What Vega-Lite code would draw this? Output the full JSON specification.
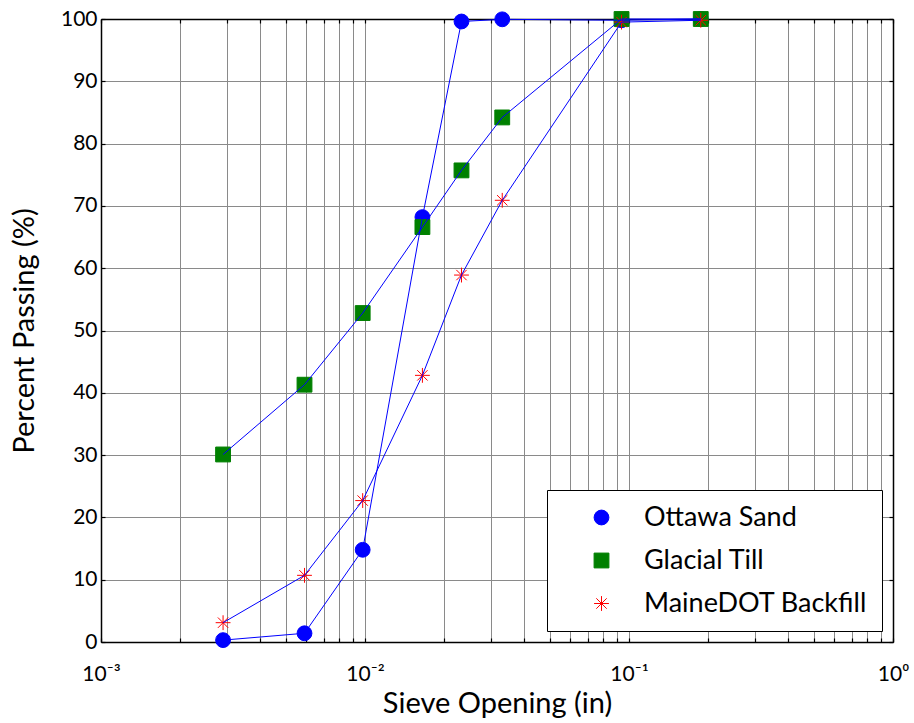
{
  "$schema": "https://vega.github.io/schema/vega-lite/v6.json",
  "autosize": "none",
  "width": 792,
  "height": 623,
  "padding": {"left": 101, "top": 19, "right": 21, "bottom": 81},
  "background": "white",
  "config": {
    "view": {"stroke": null},
    "font": "Lato",
    "axis": {"labelFont": "Lato", "titleFont": "Lato", "labelColor": "black", "titleColor": "black", "titleFontWeight": "normal", "domainColor": "black", "domainWidth": 1.5, "tickColor": "black", "tickWidth": 1.2, "gridColor": "#8a8a8a", "gridWidth": 1, "gridOpacity": 1},
    "legend": {"labelFont": "Lato"}
  },
  "data": {
    "values": [
      {"sieve": 0.0029, "series": "Ottawa Sand", "passing": 0.3},
      {"sieve": 0.0059, "series": "Ottawa Sand", "passing": 1.4},
      {"sieve": 0.0098, "series": "Ottawa Sand", "passing": 14.8},
      {"sieve": 0.0165, "series": "Ottawa Sand", "passing": 68.2},
      {"sieve": 0.0232, "series": "Ottawa Sand", "passing": 99.6},
      {"sieve": 0.0331, "series": "Ottawa Sand", "passing": 99.95},
      {"sieve": 0.0937, "series": "Ottawa Sand", "passing": 99.8},
      {"sieve": 0.187, "series": "Ottawa Sand", "passing": 100},
      {"sieve": 0.0029, "series": "Glacial Till", "passing": 30.1},
      {"sieve": 0.0059, "series": "Glacial Till", "passing": 41.3},
      {"sieve": 0.0098, "series": "Glacial Till", "passing": 52.8},
      {"sieve": 0.0165, "series": "Glacial Till", "passing": 66.6},
      {"sieve": 0.0232, "series": "Glacial Till", "passing": 75.7},
      {"sieve": 0.0331, "series": "Glacial Till", "passing": 84.2},
      {"sieve": 0.0937, "series": "Glacial Till", "passing": 100},
      {"sieve": 0.187, "series": "Glacial Till", "passing": 100},
      {"sieve": 0.0029, "series": "MaineDOT Backfill", "passing": 3.1},
      {"sieve": 0.0059, "series": "MaineDOT Backfill", "passing": 10.7},
      {"sieve": 0.0098, "series": "MaineDOT Backfill", "passing": 22.7},
      {"sieve": 0.0165, "series": "MaineDOT Backfill", "passing": 42.8},
      {"sieve": 0.0232, "series": "MaineDOT Backfill", "passing": 58.9},
      {"sieve": 0.0331, "series": "MaineDOT Backfill", "passing": 70.9},
      {"sieve": 0.0937, "series": "MaineDOT Backfill", "passing": 99.5},
      {"sieve": 0.187, "series": "MaineDOT Backfill", "passing": 99.8}
    ]
  },
  "layer": [
    {
      "mark": {"type": "point", "filled": false, "size": 220, "strokeWidth": 1, "opacity": 1},
      "encoding": {
        "x": {
          "field": "sieve", "type": "quantitative",
          "scale": {"type": "log", "domain": [0.001, 1], "nice": false},
          "axis": {
            "orient": "bottom",
            "title": "Sieve Opening (in)",
            "titleFontSize": 29,
            "titlePadding": 5,
            "values": [0.001,0.002,0.003,0.004,0.005,0.006,0.007,0.008,0.009,0.01,0.02,0.03,0.04,0.05,0.06,0.07,0.08,0.09,0.1,0.2,0.3,0.4,0.5,0.6,0.7,0.8,0.9,1],
            "labelExpr": "datum.value == 0.001 ? '10⁻³' : datum.value == 0.01 ? '10⁻²' : datum.value == 0.1 ? '10⁻¹' : datum.value == 1 ? '10⁰' : ''",
            "labelFontSize": 21,
            "labelPadding": 25,
            "labelFlush": false,
            "labelOverlap": false,
            "labelBound": false,
            "tickSize": -4,
            "grid": true
          }
        },
        "y": {
          "field": "passing", "type": "quantitative",
          "scale": {"domain": [0, 100], "nice": false, "zero": false},
          "axis": {
            "orient": "left",
            "title": "Percent Passing (%)",
            "titleFontSize": 29,
            "titlePadding": 21,
            "values": [0,10,20,30,40,50,60,70,80,90,100],
            "labelFontSize": 21,
            "labelPadding": 8,
            "tickSize": -4,
            "grid": true
          }
        },
        "shape": {
          "field": "series", "type": "nominal",
          "scale": {"domain": ["Ottawa Sand", "Glacial Till", "MaineDOT Backfill"], "range": ["circle", "square", "M-1,0L1,0M0,-1L0,1M-0.7,-0.7L0.7,0.7M-0.7,0.7L0.7,-0.7"]},
          "legend": {
            "title": null,
            "orient": "bottom-right",
            "offset": 11,
            "padding": 14,
            "strokeColor": "black",
            "fillColor": "white",
            "labelFontSize": 27,
            "labelColor": "black",
            "labelOffset": 29,
            "symbolOffset": 27,
            "symbolSize": 220,
            "symbolStrokeWidth": 1,
            "rowPadding": 15,
            "labelLimit": 400
          }
        },
        "fill": {
          "field": "series", "type": "nominal",
          "scale": {"domain": ["Ottawa Sand", "Glacial Till", "MaineDOT Backfill"], "range": ["#0000ff", "#008000", "transparent"]},
          "legend": {
            "title": null,
            "orient": "bottom-right",
            "offset": 11,
            "padding": 14,
            "strokeColor": "black",
            "fillColor": "white",
            "labelFontSize": 27,
            "labelColor": "black",
            "labelOffset": 29,
            "symbolOffset": 27,
            "symbolSize": 220,
            "symbolStrokeWidth": 1,
            "rowPadding": 15,
            "labelLimit": 400
          }
        },
        "stroke": {
          "field": "series", "type": "nominal",
          "scale": {"domain": ["Ottawa Sand", "Glacial Till", "MaineDOT Backfill"], "range": ["#0000ff", "#008000", "#ff0000"]},
          "legend": {
            "title": null,
            "orient": "bottom-right",
            "offset": 11,
            "padding": 14,
            "strokeColor": "black",
            "fillColor": "white",
            "labelFontSize": 27,
            "labelColor": "black",
            "labelOffset": 29,
            "symbolOffset": 27,
            "symbolSize": 220,
            "symbolStrokeWidth": 1,
            "rowPadding": 15,
            "labelLimit": 400
          }
        }
      }
    },
    {
      "mark": {"type": "line", "color": "#0000ff", "strokeWidth": 1},
      "encoding": {
        "x": {
          "field": "sieve", "type": "quantitative",
          "scale": {"type": "log", "domain": [0.001, 1], "nice": false},
          "axis": {
            "orient": "top",
            "title": null,
            "labels": false,
            "values": [0.001,0.002,0.003,0.004,0.005,0.006,0.007,0.008,0.009,0.01,0.02,0.03,0.04,0.05,0.06,0.07,0.08,0.09,0.1,0.2,0.3,0.4,0.5,0.6,0.7,0.8,0.9,1],
            "tickSize": -4,
            "grid": false
          }
        },
        "y": {
          "field": "passing", "type": "quantitative",
          "scale": {"domain": [0, 100], "nice": false, "zero": false},
          "axis": {
            "orient": "right",
            "title": null,
            "labels": false,
            "values": [0,10,20,30,40,50,60,70,80,90,100],
            "tickSize": -4,
            "grid": false
          }
        },
        "detail": {"field": "series", "type": "nominal"},
        "order": {"field": "sieve", "type": "quantitative"}
      }
    }
  ],
  "resolve": {"axis": {"x": "independent", "y": "independent"}}
}
